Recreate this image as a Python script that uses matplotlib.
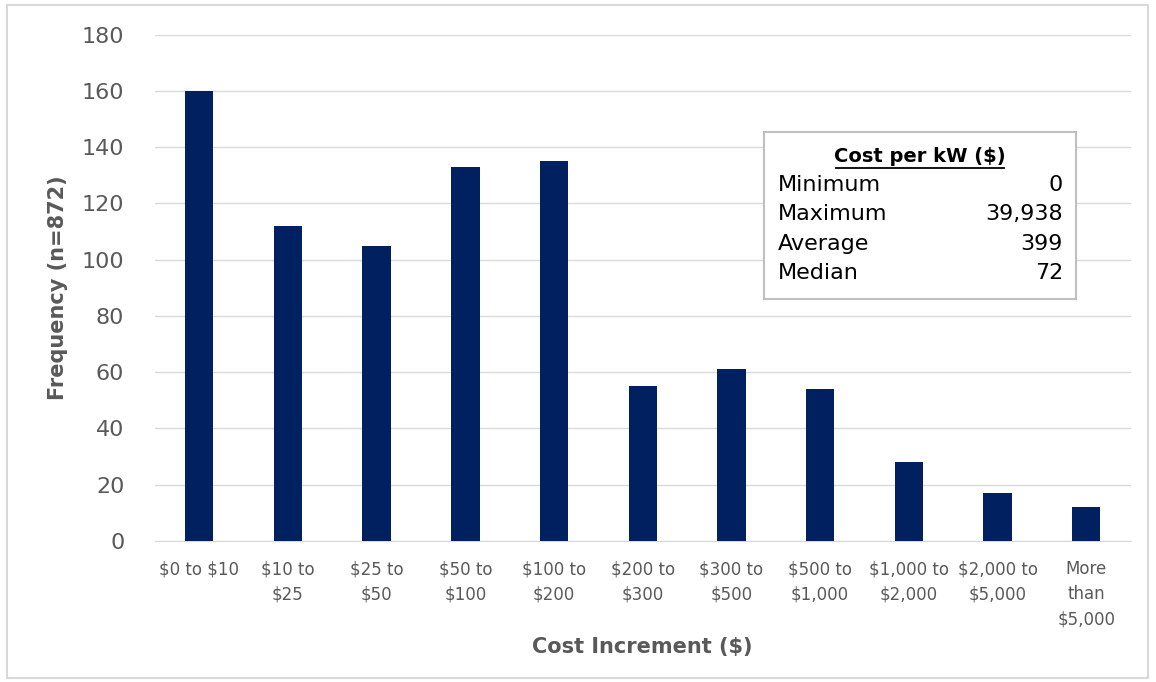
import matplotlib.pyplot as plt
from matplotlib.patches import Rectangle

plt.rcParams['text.parse_math'] = False

categories = ['$0 to $10', '$10 to\n$25', '$25 to\n$50', '$50 to\n$100', '$100 to\n$200',
              '$200 to\n$300', '$300 to\n$500', '$500 to\n$1,000', '$1,000 to\n$2,000',
              '$2,000 to\n$5,000', 'More\nthan\n$5,000']
counts = [160, 112, 105, 133, 135, 55, 61, 54, 28, 17, 12]
stat_names = ['Minimum', 'Maximum', 'Average', 'Median']
stat_values = ['0', '39,938', '399', '72']

navy = '#002060'
gray = '#595959'

fig = plt.figure(figsize=(11.56, 6.82), dpi=100)
ax = fig.add_axes([0.134, 0.207, 0.844, 0.742])
ax.bar(range(len(counts)), counts, width=0.32, color=navy, zorder=3)
ax.set_xlim(-0.5, len(counts) - 0.5)
ax.set_ylim(0, 180)
ax.set_yticks(range(0, 181, 20))
ax.grid(axis='y', color='#d9d9d9', linewidth=1, zorder=0)
for s in ['top', 'right', 'left']:
    ax.spines[s].set_visible(False)
ax.spines['bottom'].set_color('#d9d9d9')
ax.tick_params(axis='both', length=0, colors=gray)
ax.tick_params(axis='y', labelsize=16, pad=22)
ax.set_xticks(range(len(counts)))
ax.set_xticklabels(categories, fontsize=12, linespacing=1.5)
ax.tick_params(axis='x', pad=14)
ax.set_ylabel('Frequency (n=872)', fontsize=15, fontweight='bold', color=gray, labelpad=10)
ax.set_xlabel('Cost Increment ($)', fontsize=15, fontweight='bold', color=gray, labelpad=6)

# stats box
fig.patches.append(Rectangle((764 / 1156, 1 - 299 / 682), 312 / 1156, 167 / 682,
                             transform=fig.transFigure, facecolor='white',
                             edgecolor='#bfbfbf', linewidth=1.5, zorder=5))
fig.text(920 / 1156, 1 - 157 / 682, 'Cost per kW ($)', ha='center', va='center',
         fontsize=14, fontweight='bold', color='black', zorder=6)
fig.add_artist(plt.Line2D([836 / 1156, 1004 / 1156], [1 - 168 / 682, 1 - 168 / 682],
                          transform=fig.transFigure, color='black', linewidth=1.3, zorder=6))
for i, (n, v) in enumerate(zip(stat_names, stat_values)):
    y = 1 - (185 + 29.3 * i) / 682
    fig.text(778 / 1156, y, n, ha='left', va='center', fontsize=16, color='black', zorder=6)
    fig.text(1063 / 1156, y, v, ha='right', va='center', fontsize=16, color='black', zorder=6)

# outer frame
fig.patches.append(Rectangle((7 / 1156, 4 / 682), 1141 / 1156, 673 / 682,
                             transform=fig.transFigure, facecolor='none',
                             edgecolor='#d9d9d9', linewidth=1.5))

fig.savefig('out.png', dpi=100)
